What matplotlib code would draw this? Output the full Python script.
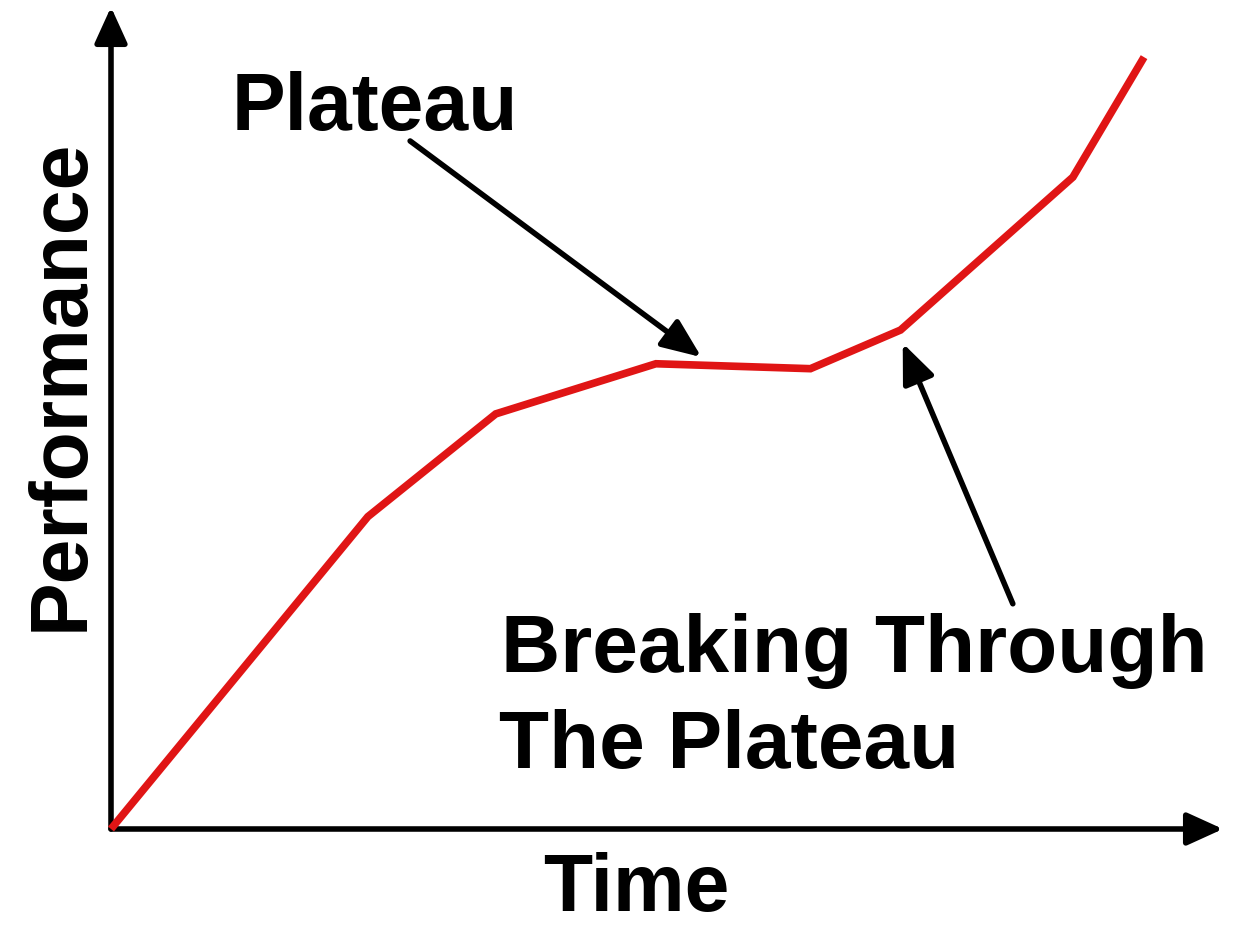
import matplotlib as mpl
mpl.use('Agg')
import matplotlib.pyplot as plt

# performance curve (arbitrary units, origin where the axes meet)
time = [0, 2.31, 3.46, 4.90, 6.29, 7.10, 8.65, 9.29]
performance = [0, 3.80, 5.05, 5.66, 5.60, 6.07, 7.93, 9.39]

# labels
x_label = 'Time'
y_label = 'Performance'
plateau_label = 'Plateau'
breaking_label = ['Breaking Through', 'The Plateau']

W, H = 1238, 929
fig = plt.figure(figsize=(W / 100, H / 100), dpi=100)
fig.patch.set_facecolor('white')

# axes box: origin at pixel (111, 830), arrow tips at x=1223 and y=8
ax = fig.add_axes([111 / W, (H - 830) / H, (1223 - 111) / W, (830 - 8) / H])
ax.set_xlim(0, 10)
ax.set_ylim(0, 10)
ax.axis('off')

font = 'Liberation Sans'
fs = 58

# axes drawn as arrows
axis_arrow = dict(arrowstyle='-|>,head_length=1.1,head_width=0.5', color='black',
                  lw=4, mutation_scale=20, shrinkA=0, shrinkB=0)
ax.annotate('', xy=(0, 1), xytext=(0, 0), xycoords='axes fraction',
            textcoords='axes fraction', arrowprops=axis_arrow, annotation_clip=False)
ax.annotate('', xy=(1, 0), xytext=(0, 0), xycoords='axes fraction',
            textcoords='axes fraction', arrowprops=axis_arrow, annotation_clip=False)

# the red curve
ax.plot(time, performance, color='#e01515', lw=5.5, solid_joinstyle='miter',
        solid_capstyle='butt', clip_on=False, zorder=3)

# pointer arrows
pointer = dict(arrowstyle='-|>,head_length=1.2,head_width=0.5', color='black',
               lw=4, mutation_scale=20, shrinkA=0, shrinkB=0)
ax.annotate('', xy=(5.31, 5.74), xytext=(2.69, 8.37), arrowprops=pointer)
ax.annotate('', xy=(7.12, 5.91), xytext=(8.11, 2.74), arrowprops=pointer)

# texts
fig.text(375 / W, 1 - 130 / H, plateau_label, ha='center', va='baseline',
         fontsize=fs, fontweight='bold', family=font)
fig.text(854 / W, 1 - 672 / H, breaking_label[0], ha='center', va='baseline',
         fontsize=59, fontweight='bold', family=font)
fig.text(729 / W, 1 - 768 / H, breaking_label[1], ha='center', va='baseline',
         fontsize=59, fontweight='bold', family=font)
fig.text(636 / W, 1 - 911 / H, x_label, ha='center', va='baseline',
         fontsize=fs, fontweight='bold', family=font)
fig.text(83 / W, 1 - 385 / H, y_label, ha='center', va='baseline',
         rotation=90, rotation_mode='anchor',
         fontsize=fs, fontweight='bold', family=font)

fig.savefig('out.png', dpi=100, facecolor='white')
